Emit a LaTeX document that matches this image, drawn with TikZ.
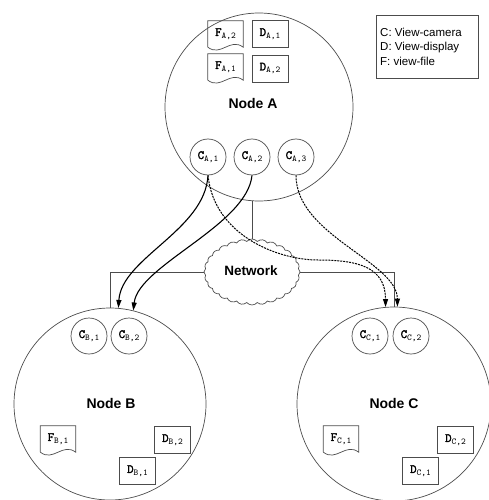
\documentclass[tikz,border=0pt]{standalone}
\usepackage{fontspec}
\setmainfont{Liberation Sans}
\setmonofont[AutoFakeBold=2.2]{Latin Modern Mono}
\usetikzlibrary{shapes.symbols,arrows.meta}
\newcommand{\vlab}[3]{{\ttfamily\bfseries\fontsize{12.5}{12.5}\selectfont #1}{\ttfamily\fontsize{9}{9}\selectfont\raisebox{-2.5pt}{#2,#3}}}
\begin{document}
\begin{tikzpicture}[x=1pt,y=-1pt,
  outl/.style={draw=black!70, line width=0.7pt},
  big/.style={outl, circle, inner sep=0pt},
  cam/.style={outl, circle, minimum size=36pt, inner sep=0pt},
  disp/.style={outl, rectangle, minimum width=36pt, minimum height=27pt, inner sep=0pt},
  filebox/.style={rectangle, minimum width=35pt, minimum height=26pt, inner sep=0pt},
  nlabel/.style={font=\bfseries\fontsize{14}{14}\selectfont, inner sep=0pt},
  conn/.style={draw=black!70, line width=0.7pt},
  solidarr/.style={draw=black, line width=1.1pt, -{Triangle[length=8pt,width=5pt]}},
  dasharr/.style={draw=black, line width=1pt, dash pattern=on 2pt off 1pt, -{Triangle[length=8pt,width=5pt]}}
]
\useasboundingbox (0,0) rectangle (489,500);

% big nodes
\node[big, minimum size=188pt] (A) at (259,107) {};
\node[big, minimum size=192pt] (B) at (110,404) {};
\node[big, minimum size=194pt] (C) at (394,404) {};
\node[nlabel] (Alab) at (253,103) {Node A};
\node[nlabel] (Blab) at (111,403) {Node B};
\node[nlabel] (Clab) at (394,403) {Node C};

% cameras
\node[cam] (CA1) at (208,157) {\vlab{C}{A}{1}};
\node[cam] (CA2) at (252,157) {\vlab{C}{A}{2}};
\node[cam] (CA3) at (296,157) {\vlab{C}{A}{3}};
\node[cam] (CB1) at (89,336) {\vlab{C}{B}{1}};
\node[cam] (CB2) at (129,336) {\vlab{C}{B}{2}};
\node[cam] (CC1) at (370,336) {\vlab{C}{C}{1}};
\node[cam] (CC2) at (411,336) {\vlab{C}{C}{2}};

% displays
\node[disp] (DA1) at (270,34) {\vlab{D}{A}{1}};
\node[disp] (DA2) at (270,68.5) {\vlab{D}{A}{2}};
\node[disp] (DB2) at (172.5,440) {\vlab{D}{B}{2}};
\node[disp] (DB1) at (137.5,471) {\vlab{D}{B}{1}};
\node[disp] (DC2) at (455.5,440) {\vlab{D}{C}{2}};
\node[disp] (DC1) at (420.5,471) {\vlab{D}{C}{1}};

% files
\node[filebox] (FA2) at (225.5,34) {\vlab{F}{A}{2}};
\node[filebox] (FA1) at (225.5,67) {\vlab{F}{A}{1}};
\node[filebox] (FB1) at (58,439) {\vlab{F}{B}{1}};
\node[filebox] (FC1) at (341,439) {\vlab{F}{C}{1}};
\foreach \f in {FA2,FA1,FB1,FC1}{
  \draw[outl] (\f.south west) -- (\f.north west) -- (\f.north east) -- (\f.south east)
    .. controls +(-13,-10) and +(13,10) .. (\f.south west);
}

% network
\node[cloud, outl, cloud puffs=28, cloud puff arc=100, aspect=1.45,
      minimum width=96pt, minimum height=66pt, inner sep=0pt] (net) at (252,272) {};
\node[nlabel, font=\bfseries\fontsize{13.5}{13.5}\selectfont] (netlab) at (251,271) {Network};

\draw[conn] (net.north) -- (A.south -| net.north);
\draw[conn] (net.west) -| (B.north);
\draw[conn] (net.east) -| (C.north);

% arrows
\coordinate (via) at (318,260);
\draw[solidarr] (CA1.south) .. controls +(-3,55) and +(3,-50) .. (B.85);
\draw[solidarr] (CA2.south) .. controls +(-5,50) and +(5,-45) .. (B.76);
\draw[dasharr] (CA1.south) .. controls +(6,60) and +(-40,0) .. (via)
   .. controls +(40,0) and +(0,-40) .. (C.95);
\draw[dasharr] (CA3.south) .. controls +(0,60) and +(0,-45) .. (C.88);

% legend
\node[outl, rectangle, minimum width=102pt, minimum height=63pt, anchor=north west, inner sep=0pt] (leg) at (376,15) {};
\node[anchor=north west, align=left, inner sep=0pt, font=\fontsize{11.5}{14.5}\selectfont] (legtxt) at (380,27.5)
  {C: View-camera\\D: View-display\\F: view-file};
\end{tikzpicture}
\end{document}
